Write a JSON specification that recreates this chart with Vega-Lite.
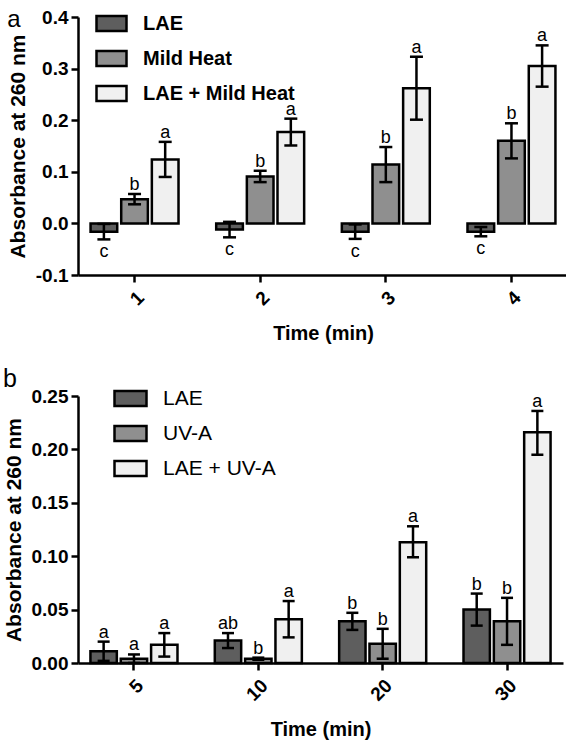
{
  "$schema": "https://vega.github.io/schema/vega-lite/v6.json",
  "padding": {"left": 3, "top": 7, "right": 2, "bottom": 4},
  "background": "white",
  "align": "none",
  "config": {
    "font": "Liberation Sans",
    "view": {"stroke": null},
    "axis": {
      "domainColor": "black", "domainWidth": 2.5, "tickColor": "black", "tickWidth": 2.5, "tickSize": 7,
      "labelColor": "black", "labelFont": "Liberation Sans", "labelFontWeight": "bold", "labelFontSize": 19,
      "titleColor": "black", "titleFont": "Liberation Sans", "titleFontWeight": "bold", "titleFontSize": 20, "grid": false
    },
    "axisY": {"titleFontSize": 21, "labelPadding": 3, "titlePadding": 7},
    "axisX": {"labelAngle": -45, "labelPadding": 6, "titlePadding": 15},
    "title": {"color": "black", "font": "Liberation Sans"},
    "text": {"color": "black", "font": "Liberation Sans"}
  },
  "datasets": {
    "a": [
      {"time": "1", "group": "LAE", "mean": -0.016, "lo": -0.031, "hi": -0.001, "label": "c"},
      {"time": "1", "group": "Mild Heat", "mean": 0.047, "lo": 0.037, "hi": 0.057, "label": "b"},
      {"time": "1", "group": "LAE + Mild Heat", "mean": 0.124, "lo": 0.090, "hi": 0.158, "label": "a"},
      {"time": "2", "group": "LAE", "mean": -0.012, "lo": -0.027, "hi": 0.003, "label": "c"},
      {"time": "2", "group": "Mild Heat", "mean": 0.091, "lo": 0.080, "hi": 0.102, "label": "b"},
      {"time": "2", "group": "LAE + Mild Heat", "mean": 0.177, "lo": 0.151, "hi": 0.203, "label": "a"},
      {"time": "3", "group": "LAE", "mean": -0.016, "lo": -0.030, "hi": -0.002, "label": "c"},
      {"time": "3", "group": "Mild Heat", "mean": 0.114, "lo": 0.080, "hi": 0.148, "label": "b"},
      {"time": "3", "group": "LAE + Mild Heat", "mean": 0.262, "lo": 0.201, "hi": 0.323, "label": "a"},
      {"time": "4", "group": "LAE", "mean": -0.016, "lo": -0.025, "hi": -0.007, "label": "c"},
      {"time": "4", "group": "Mild Heat", "mean": 0.160, "lo": 0.126, "hi": 0.194, "label": "b"},
      {"time": "4", "group": "LAE + Mild Heat", "mean": 0.305, "lo": 0.265, "hi": 0.345, "label": "a"}
    ],
    "b": [
      {"time": "5", "group": "LAE", "mean": 0.011, "lo": 0.002, "hi": 0.020, "label": "a"},
      {"time": "5", "group": "UV-A", "mean": 0.004, "lo": 0.000, "hi": 0.008, "label": "a"},
      {"time": "5", "group": "LAE + UV-A", "mean": 0.017, "lo": 0.006, "hi": 0.028, "label": "a"},
      {"time": "10", "group": "LAE", "mean": 0.021, "lo": 0.014, "hi": 0.028, "label": "ab"},
      {"time": "10", "group": "UV-A", "mean": 0.004, "lo": 0.003, "hi": 0.005, "label": "b"},
      {"time": "10", "group": "LAE + UV-A", "mean": 0.041, "lo": 0.024, "hi": 0.058, "label": "a"},
      {"time": "20", "group": "LAE", "mean": 0.039, "lo": 0.031, "hi": 0.047, "label": "b"},
      {"time": "20", "group": "UV-A", "mean": 0.018, "lo": 0.004, "hi": 0.032, "label": "b"},
      {"time": "20", "group": "LAE + UV-A", "mean": 0.113, "lo": 0.099, "hi": 0.128, "label": "a"},
      {"time": "30", "group": "LAE", "mean": 0.050, "lo": 0.035, "hi": 0.065, "label": "b"},
      {"time": "30", "group": "UV-A", "mean": 0.039, "lo": 0.017, "hi": 0.061, "label": "b"},
      {"time": "30", "group": "LAE + UV-A", "mean": 0.216, "lo": 0.195, "hi": 0.236, "label": "a"}
    ]
  },
  "spacing": 23,
  "resolve": {"scale": {"fill": "independent", "x": "independent", "y": "independent", "xOffset": "independent"}, "legend": {"fill": "independent"}},
  "vconcat": [
    {
      "width": 490, "height": 258,
      "title": {"text": "a", "anchor": "start", "frame": "bounds", "fontSize": 24, "fontWeight": "normal", "offset": 0, "dy": 25},
      "data": {"name": "a"},
      "encoding": {
        "x": {"field": "time", "type": "nominal", "sort": ["1", "2", "3", "4"], "scale": {"paddingInner": 0.3, "paddingOuter": 0.1}, "axis": {"title": "Time (min)"}},
        "xOffset": {"field": "group", "type": "nominal", "sort": ["LAE", "Mild Heat", "LAE + Mild Heat"], "scale": {"paddingInner": 0.13, "paddingOuter": 0}}
      },
      "layer": [
        {
          "mark": {"type": "bar", "stroke": "black", "strokeWidth": 2.5},
          "encoding": {
            "y": {"field": "mean", "type": "quantitative", "title": "Absorbance at 260 nm", "scale": {"domain": [-0.1, 0.4], "nice": false},
              "axis": {"values": [-0.1, 0, 0.1, 0.2, 0.3, 0.4], "labelExpr": "(datum.value < 0 ? '-' : '') + format(abs(datum.value), '.1f')"}},
            "fill": {"field": "group", "type": "nominal", "sort": ["LAE", "Mild Heat", "LAE + Mild Heat"],
              "scale": {"domain": ["LAE", "Mild Heat", "LAE + Mild Heat"], "range": ["#5e5e5e", "#8f8f8f", "#f0f0f0"]},
              "legend": {"title": null, "orient": "none", "legendX": 17, "legendY": -10, "symbolType": "M-1,-0.5H1V0.5H-1Z", "symbolSize": 900,
                "symbolStrokeColor": "black", "symbolStrokeWidth": 2.5, "symbolOpacity": 1, "labelFontSize": 20, "labelFontWeight": "bold", "labelColor": "black",
                "labelFont": "Liberation Sans", "labelOffset": 15, "rowPadding": 6}}
          }
        },
        {"mark": {"type": "rule", "color": "black", "strokeWidth": 2.5},
          "encoding": {"y": {"field": "lo", "type": "quantitative", "title": "Absorbance at 260 nm"}, "y2": {"field": "hi"}}},
        {"mark": {"type": "tick", "color": "black", "thickness": 2.5, "size": 13, "opacity": 1},
          "encoding": {"y": {"field": "hi", "type": "quantitative", "title": "Absorbance at 260 nm"}}},
        {"mark": {"type": "tick", "color": "black", "thickness": 2.5, "size": 13, "opacity": 1},
          "encoding": {"y": {"field": "lo", "type": "quantitative", "title": "Absorbance at 260 nm"}}},
        {"transform": [{"filter": "datum.mean >= 0"}],
          "mark": {"type": "text", "baseline": "alphabetic", "dy": -4, "fontSize": 18},
          "encoding": {"y": {"field": "hi", "type": "quantitative", "title": "Absorbance at 260 nm"}, "text": {"field": "label"}}},
        {"transform": [{"filter": "datum.mean < 0"}],
          "mark": {"type": "text", "baseline": "top", "dy": 4, "fontSize": 18},
          "encoding": {"y": {"field": "lo", "type": "quantitative", "title": "Absorbance at 260 nm"}, "text": {"field": "label"}}}
      ]
    },
    {
      "width": 485, "height": 267,
      "title": {"text": "b", "anchor": "start", "frame": "bounds", "fontSize": 25, "fontWeight": "normal", "offset": 0, "dy": 11},
      "data": {"name": "b"},
      "encoding": {
        "x": {"field": "time", "type": "nominal", "sort": ["5", "10", "20", "30"], "scale": {"paddingInner": 0.3, "paddingOuter": 0.1}, "axis": {"title": "Time (min)"}},
        "xOffset": {"field": "group", "type": "nominal", "sort": ["LAE", "UV-A", "LAE + UV-A"], "scale": {"paddingInner": 0.13, "paddingOuter": 0}}
      },
      "layer": [
        {
          "mark": {"type": "bar", "stroke": "black", "strokeWidth": 2.5},
          "encoding": {
            "y": {"field": "mean", "type": "quantitative", "title": "Absorbance at 260 nm", "scale": {"domain": [0, 0.25], "nice": false},
              "axis": {"values": [0, 0.05, 0.1, 0.15, 0.2, 0.25], "format": ".2f"}},
            "fill": {"field": "group", "type": "nominal", "sort": ["LAE", "UV-A", "LAE + UV-A"],
              "scale": {"domain": ["LAE", "UV-A", "LAE + UV-A"], "range": ["#5e5e5e", "#8f8f8f", "#f0f0f0"]},
              "legend": {"title": null, "orient": "none", "legendX": 35, "legendY": -15, "symbolType": "M-1,-0.47H1V0.47H-1Z", "symbolSize": 1024,
                "symbolStrokeColor": "black", "symbolStrokeWidth": 2.5, "symbolOpacity": 1, "labelFontSize": 21, "labelFontWeight": "normal", "labelColor": "black",
                "labelFont": "Liberation Sans", "labelOffset": 15, "rowPadding": 4}}
          }
        },
        {"mark": {"type": "rule", "color": "black", "strokeWidth": 2.5},
          "encoding": {"y": {"field": "lo", "type": "quantitative", "title": "Absorbance at 260 nm"}, "y2": {"field": "hi"}}},
        {"mark": {"type": "tick", "color": "black", "thickness": 2.5, "size": 12, "opacity": 1},
          "encoding": {"y": {"field": "hi", "type": "quantitative", "title": "Absorbance at 260 nm"}}},
        {"mark": {"type": "tick", "color": "black", "thickness": 2.5, "size": 12, "opacity": 1},
          "encoding": {"y": {"field": "lo", "type": "quantitative", "title": "Absorbance at 260 nm"}}},
        {"mark": {"type": "text", "baseline": "alphabetic", "dy": -4, "fontSize": 18},
          "encoding": {"y": {"field": "hi", "type": "quantitative", "title": "Absorbance at 260 nm"}, "text": {"field": "label"}}}
      ]
    }
  ]
}
